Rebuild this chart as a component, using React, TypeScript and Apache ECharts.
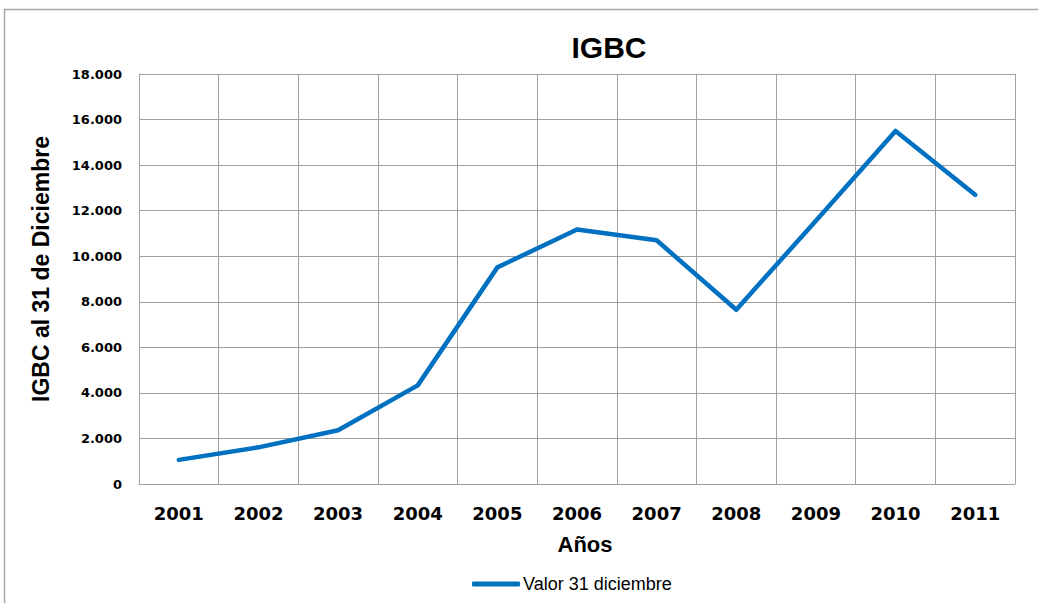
import React, { useEffect, useRef } from "react";
import * as echarts from "echarts";

const years = ["2001", "2002", "2003", "2004", "2005", "2006", "2007", "2008", "2009", "2010", "2011"];
const valores = [1060, 1610, 2360, 4330, 9510, 11170, 10700, 7650, 11560, 15500, 12700];
const seriesName = "Valor 31 diciembre";
const chartTitle = "IGBC";
const yTitle = "IGBC al 31 de Diciembre";
const xTitle = "Años";

const fmt = (v: number) => String(v).replace(/\B(?=(\d{3})+(?!\d))/g, ".");

export default function App() {
  const ref = useRef<HTMLDivElement>(null);
  useEffect(() => {
    document.body.style.margin = "0";
    const chart = echarts.init(ref.current!, null, { renderer: "svg" });
    chart.setOption({
      animation: false,
      backgroundColor: "#ffffff",
      title: {
        text: chartTitle,
        left: 604,
        top: 27,
        textAlign: "center",
        textStyle: { fontFamily: "'Liberation Sans', Arial, sans-serif", fontWeight: "bold", fontSize: 30, color: "#000" },
      },
      graphic: [
        {
          type: "rect",
          shape: { x: 4.5, y: 9.5, width: 1200, height: 700 },
          style: { fill: "none", stroke: "#a6a6a6", lineWidth: 1.5 },
          silent: true,
        },
      ],
      grid: { left: 139, right: 23, top: 74, bottom: 119 },
      legend: {
        left: 467,
        top: 570,
        icon: "roundRect",
        itemWidth: 48,
        itemHeight: 5,
        itemStyle: { color: "#0070C0", borderWidth: 0 },
        textStyle: { fontFamily: "'Liberation Sans', Arial, sans-serif", fontSize: 18, color: "#000", padding: [0, 0, 0, -2] },
        data: [seriesName],
      },
      xAxis: {
        type: "category",
        data: years,
        boundaryGap: true,
        name: xTitle,
        nameLocation: "middle",
        nameGap: 49,
        nameTextStyle: { fontFamily: "'Liberation Sans', Arial, sans-serif", fontWeight: "bold", fontSize: 22, color: "#000", padding: [0, 0, 0, 16] },
        axisLine: { show: true, lineStyle: { color: "#a0a0a0", width: 1 } },
        axisTick: { show: false },
        axisLabel: { margin: 20, fontFamily: "'DejaVu Sans', sans-serif", fontWeight: "bold", fontSize: 18, color: "#000" },
        splitLine: { show: true, lineStyle: { color: "#a0a0a0", width: 1 } },
      },
      yAxis: {
        type: "value",
        min: 0,
        max: 18000,
        interval: 2000,
        name: yTitle,
        nameLocation: "middle",
        nameGap: 87,
        nameRotate: 90,
        nameTextStyle: { fontFamily: "'Liberation Sans', Arial, sans-serif", fontWeight: "bold", fontSize: 23, color: "#000", padding: [0, 0, 0, 20] },
        axisLine: { show: true, lineStyle: { color: "#a0a0a0", width: 1 } },
        axisTick: { show: false },
        axisLabel: { margin: 17, formatter: (v: number) => fmt(v), fontFamily: "'DejaVu Sans', sans-serif", fontWeight: "bold", fontSize: 13, color: "#000" },
        splitLine: { show: true, lineStyle: { color: "#a0a0a0", width: 1 } },
      },
      series: [
        {
          name: seriesName,
          type: "line",
          data: valores,
          symbol: "none",
          smooth: false,
          itemStyle: { color: "#0070C0" },
          lineStyle: { color: "#0070C0", width: 4.5, cap: "round", join: "round" },
        },
      ],
    });
    return () => chart.dispose();
  }, []);
  return <div ref={ref} style={{ width: 1038, height: 603 }} />;
}
